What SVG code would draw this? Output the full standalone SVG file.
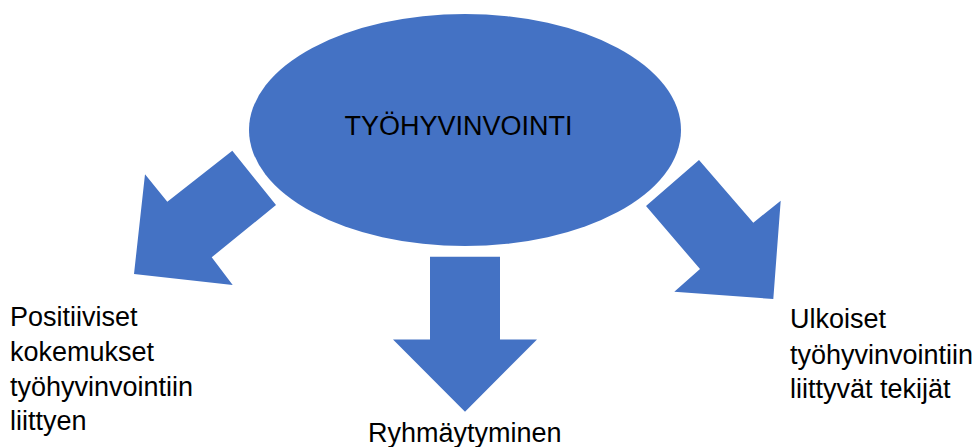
<svg xmlns="http://www.w3.org/2000/svg" width="978" height="447" viewBox="0 0 978 447">
  <style>
    .shape { fill: #4472C4; }
    .label { font-family: "Liberation Sans", Arial, sans-serif; font-size: 27px; fill: #000000; }
  </style>
  <rect width="978" height="447" fill="#ffffff"/>

  <g id="center">
    <ellipse class="shape" cx="465" cy="130" rx="216" ry="116"/>
    <text class="label" x="458.5" y="135" text-anchor="middle">TYÖHYVINVOINTI</text>
  </g>

  <g id="connectors">
    <!-- block arrow pointing down-left -->
    <polygon class="shape" points="134,274 145,174.3 167.3,201.7 232.3,150.7 276,205 211.7,257.3 232.7,285"/>
    <!-- block arrow pointing down -->
    <polygon class="shape" points="430,256.7 500,256.7 500,339.5 537,339.5 465,411.7 393,339.5 430,339.5"/>
    <!-- block arrow pointing down-right -->
    <polygon class="shape" points="699,160 753.3,222.7 780.7,200.7 773.3,299 674.3,291.7 700,269 646,206"/>
  </g>

  <g id="positive">
    <text class="label" x="10" y="326">Positiiviset</text>
    <text class="label" x="10" y="361">kokemukset</text>
    <text class="label" x="10" y="396">työhyvinvointiin</text>
    <text class="label" x="10" y="430">liittyen</text>
  </g>

  <g id="group">
    <text class="label" x="368" y="442">Ryhmäytyminen</text>
  </g>

  <g id="external">
    <text class="label" x="790" y="328">Ulkoiset</text>
    <text class="label" x="790" y="364">työhyvinvointiin</text>
    <text class="label" x="790" y="398">liittyvät tekijät</text>
  </g>
</svg>
